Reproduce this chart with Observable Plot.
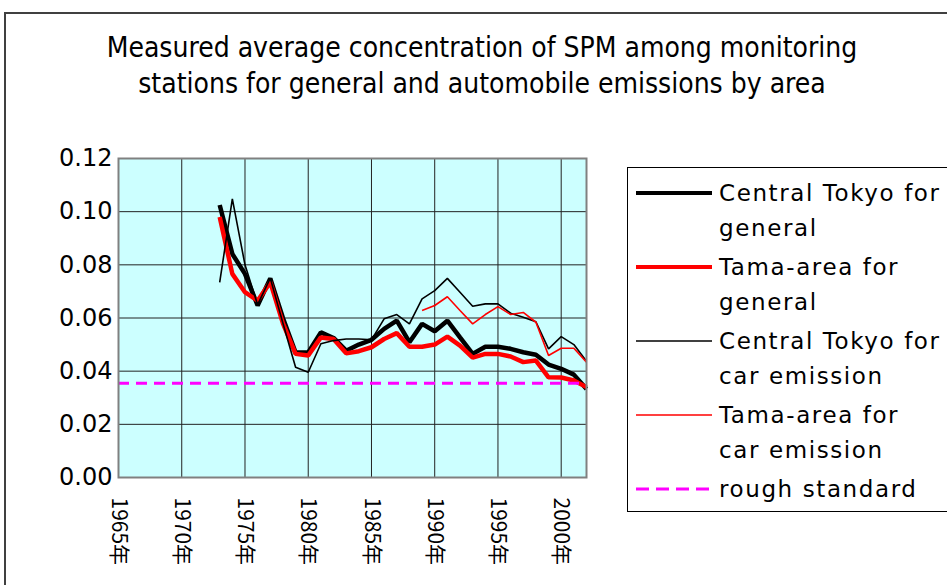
<!DOCTYPE html>
<html><head><meta charset="utf-8">
<script src="https://cdn.jsdelivr.net/npm/d3@7"></script>
<script src="https://cdn.jsdelivr.net/npm/@observablehq/plot@0.6"></script>
<style>
body{margin:0;background:#fff;}
#wrap{position:relative;width:947px;height:585px;overflow:hidden;background:#fff;}
#border{position:absolute;left:4px;top:12px;width:980px;height:600px;border-top:2px solid #404040;border-left:2px solid #404040;}
#title{position:absolute;left:0;width:964px;top:30px;text-align:center;font-family:'DejaVu Sans Condensed','DejaVu Sans',sans-serif;font-stretch:condensed;font-size:28px;line-height:36px;color:#000;white-space:nowrap;}
#chart{position:absolute;left:0;top:0;}
#legend{position:absolute;left:627px;top:167px;width:400px;height:343px;border:1px solid #000;background:#fff;font-family:'DejaVu Sans',sans-serif;font-size:23px;letter-spacing:1.6px;color:#000;}
.lg-sw{position:absolute;left:8px;width:76px;height:10px;}
.lg-tx{position:absolute;left:91px;line-height:35px;white-space:nowrap;}
</style>
</head>
<body>
<div id="wrap">
  <div id="border"></div>
  <div id="chart"></div>
  <div id="title">Measured average concentration of SPM among monitoring<br>stations for general and automobile emissions by area</div>
  <div id="legend"></div>
</div>
<script>
// ---- data ----
const years = d3.range(1973, 2003); // 1973..2002
const centralGeneral = [0.1025,0.0841,0.0766,0.0647,0.0749,0.0600,0.0470,0.0470,0.0546,0.0525,0.0477,0.0500,0.0518,0.0559,0.0590,0.0509,0.0578,0.0550,0.0590,0.0527,0.0465,0.0492,0.0492,0.0484,0.0471,0.0462,0.0425,0.0409,0.0387,0.0333];
const tamaGeneral    = [0.0980,0.0766,0.0697,0.0665,0.0735,0.0580,0.0465,0.0459,0.0527,0.0521,0.0467,0.0475,0.0490,0.0521,0.0543,0.0492,0.0492,0.0500,0.0530,0.0496,0.0451,0.0465,0.0465,0.0455,0.0434,0.0440,0.0377,0.0376,0.0365,0.0340];
const centralCar     = [0.0734,0.1048,0.0800,0.0650,0.0750,0.0580,0.0415,0.0396,0.0503,0.0515,0.0521,0.0521,0.0518,0.0597,0.0613,0.0578,0.0672,0.0703,0.0749,0.0697,0.0644,0.0653,0.0653,0.0618,0.0603,0.0586,0.0484,0.0530,0.0500,0.0437];
const tamaCar        = [null,null,null,null,null,null,null,null,null,null,null,null,null,null,null,null,0.0628,0.0647,0.0680,0.0628,0.0578,0.0613,0.0643,0.0613,0.0621,0.0584,0.0459,0.0486,0.0486,0.0434];
const roughStandard = 0.0355;
const xTicks = [1965,1970,1975,1980,1985,1990,1995,2000];
const yTicks = [0,0.02,0.04,0.06,0.08,0.10,0.12];
const seriesNames = ["Central Tokyo for\ngeneral","Tama-area for\ngeneral","Central Tokyo for\ncar emission","Tama-area for\ncar emission","rough standard"];

// ---- chart ----
const styles = [
  {stroke:"#000000", w:4.5, dash:null},
  {stroke:"#FF0000", w:4.5, dash:null},
  {stroke:"#000000", w:1.6, dash:null},
  {stroke:"#FF0000", w:1.6, dash:null},
  {stroke:"#FF00FF", w:3, dash:"11,7"}
];
const seriesVals = [centralGeneral, tamaGeneral, centralCar, tamaCar];

const lineMark = (vals, s) => Plot.line(years, {x: d => d, y: (d, i) => vals[i], stroke: s.stroke, strokeWidth: s.w, strokeLinejoin: "miter", strokeLinecap: "butt"});

const chart = Plot.plot({
  width: 947, height: 585,
  marginLeft: 118, marginRight: 361, marginTop: 158, marginBottom: 108,
  style: {fontFamily: "'Noto Sans CJK JP','Noto Sans',sans-serif", color: "#000", background: "transparent"},
  x: {domain: [1965, 2002]},
  y: {domain: [0, 0.12]},
  marks: [
    Plot.frame({fill: "#CCFFFF", stroke: null}),
    Plot.gridX({ticks: xTicks, stroke: "#222", strokeOpacity: 1, strokeWidth: 1}),
    Plot.gridY({ticks: yTicks, stroke: "#222", strokeOpacity: 1, strokeWidth: 1}),
    lineMark(seriesVals[0], styles[0]),
    lineMark(seriesVals[1], styles[1]),
    lineMark(seriesVals[2], styles[2]),
    lineMark(seriesVals[3], styles[3]),
    Plot.ruleY([roughStandard], {stroke: styles[4].stroke, strokeWidth: styles[4].w, strokeDasharray: styles[4].dash}),
    Plot.frame({stroke: "#808080", strokeWidth: 2}),
    Plot.axisY({ticks: yTicks, tickFormat: d3.format(".2f"), tickSize: 0, tickPadding: 6, fontSize: 24, fontFamily: "'DejaVu Sans',sans-serif", label: null}),
    Plot.axisX({ticks: xTicks, tickFormat: d => d + "年", tickRotate: 90, tickSize: 0, tickPadding: 20, fontSize: 21, label: null})
  ]
});
document.getElementById("chart").appendChild(chart);

// ---- legend ----
const legend = document.getElementById("legend");
const rowTops = [25, 99, 173, 247, 321];
seriesNames.forEach((name, i) => {
  const s = styles[i];
  const sw = document.createElementNS("http://www.w3.org/2000/svg", "svg");
  sw.setAttribute("class", "lg-sw");
  sw.setAttribute("width", 76); sw.setAttribute("height", 10);
  sw.style.top = (rowTops[i] - 5) + "px";
  const ln = document.createElementNS("http://www.w3.org/2000/svg", "line");
  ln.setAttribute("x1", 0); ln.setAttribute("x2", 76); ln.setAttribute("y1", 5); ln.setAttribute("y2", 5);
  ln.setAttribute("stroke", s.stroke);
  ln.setAttribute("stroke-width", s.w === 4.5 ? 4 : (s.w === 3 ? 3 : 1.6));
  if (s.dash) ln.setAttribute("stroke-dasharray", "13,7");
  sw.appendChild(ln);
  legend.appendChild(sw);
  const tx = document.createElement("div");
  tx.className = "lg-tx";
  tx.style.top = (rowTops[i] - 17.5) + "px";
  tx.innerHTML = name.split("\n").join("<br>");
  legend.appendChild(tx);
});
</script>
</body></html>
